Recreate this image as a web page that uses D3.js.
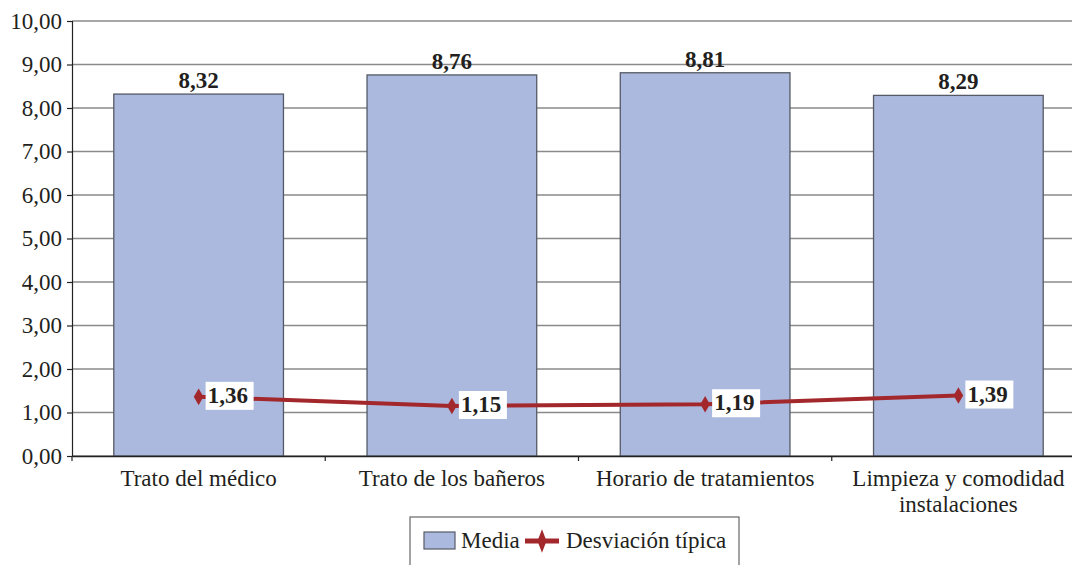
<!DOCTYPE html>
<html>
<head>
<meta charset="utf-8">
<script src="https://cdn.jsdelivr.net/npm/d3@7/dist/d3.min.js"></script>
<style>
  html, body { margin: 0; padding: 0; background: #fff; }
</style>
</head>
<body>
<svg id="chart" width="1072" height="565"></svg>
<script>
// Satisfacción con el servicio: media y desviación típica por aspecto
const categories = [
  ["Trato del médico"],
  ["Trato de los bañeros"],
  ["Horario de tratamientos"],
  ["Limpieza y comodidad", "instalaciones"]
];
const media = [8.32, 8.76, 8.81, 8.29];
const desviacion = [1.36, 1.15, 1.19, 1.39];
const yTicks = [0, 1, 2, 3, 4, 5, 6, 7, 8, 9, 10];

// Pick the first installed serif face (measured against generic fallbacks)
function pickFont(candidates) {
  const ctx = document.createElement("canvas").getContext("2d");
  const sample = "Trato del médico 1234567890 WMmil";
  const w = f => { ctx.font = "40px " + f; return ctx.measureText(sample).width; };
  const mono = w("monospace");
  for (const c of candidates) {
    const a = w(`'${c}', monospace`), b = w(`'${c}', sans-serif`);
    if (a === b && a !== mono) return `'${c}'`;
  }
  return "serif";
}
const FONT = pickFont(["Liberation Serif", "Tinos", "Times New Roman", "DejaVu Serif", "Noto Serif", "FreeSerif"]) + ", serif";
const TEXT = "#231f20";

const fmt = v => d3.format(".2f")(v).replace(".", ",");

const svg = d3.select("#chart");
const plotLeft = 72, plotRight = 1085, plotTop = 21, plotBottom = 456;

const x = d3.scaleBand().domain(d3.range(categories.length)).range([plotLeft, plotRight]).paddingInner(0.33).paddingOuter(0.165);
const xc = d3.scaleBand().domain(d3.range(categories.length)).range([plotLeft, plotRight]);
const y = d3.scaleLinear().domain([0, 10]).range([plotBottom, plotTop]);

// Gridlines
svg.append("g").selectAll("line").data(yTicks).join("line")
  .attr("x1", plotLeft).attr("x2", plotRight)
  .attr("y1", d => y(d)).attr("y2", d => y(d))
  .attr("stroke", "#8a8a8a").attr("stroke-width", 1.5);

// Y axis
const yAxis = svg.append("g").attr("transform", `translate(${plotLeft},0)`)
  .call(d3.axisLeft(y).tickValues(yTicks).tickFormat(fmt).tickSize(5).tickPadding(5));
yAxis.attr("font-family", null).attr("font-size", null);
yAxis.selectAll(".tick text").style("font-family", FONT).style("font-size", "23px").attr("fill", TEXT);
yAxis.select(".domain").attr("stroke", "#222").attr("stroke-width", 1.2);
yAxis.selectAll(".tick line").attr("stroke", "#222").attr("stroke-width", 1.2);

// Bars
svg.append("g").selectAll("rect").data(media).join("rect")
  .attr("x", (d, i) => x(i)).attr("width", x.bandwidth())
  .attr("y", d => y(d)).attr("height", d => plotBottom - y(d))
  .attr("fill", "#abb9de").attr("stroke", "#555a66").attr("stroke-width", 1.3);

// X axis
const xAxis = svg.append("g").attr("transform", `translate(0,${plotBottom})`)
  .call(d3.axisBottom(xc).tickSize(0).tickFormat(""));
xAxis.select(".domain").attr("stroke", "#222").attr("stroke-width", 1.5);
svg.append("g").selectAll("line").data(d3.range(categories.length + 1)).join("line")
  .attr("x1", i => plotLeft + i * xc.bandwidth()).attr("x2", i => plotLeft + i * xc.bandwidth())
  .attr("y1", plotBottom).attr("y2", plotBottom + 5)
  .attr("stroke", "#222").attr("stroke-width", 1.2);

// Category labels
const catText = svg.append("g").selectAll("text").data(categories).join("text")
  .attr("x", (d, i) => xc(i) + xc.bandwidth() / 2)
  .attr("y", 486)
  .attr("text-anchor", "middle").style("font-family", FONT).style("font-size", "23px").attr("fill", TEXT);
catText.selectAll("tspan").data(d => d).join("tspan")
  .attr("x", function() { return this.parentNode.getAttribute("x"); })
  .attr("dy", (d, i) => i === 0 ? 0 : 26)
  .text(d => d);

// Bar value labels
svg.append("g").selectAll("text").data(media).join("text")
  .attr("x", (d, i) => x(i) + x.bandwidth() / 2)
  .attr("y", d => y(d) - 6)
  .attr("text-anchor", "middle").style("font-family", FONT).style("font-size", "23px")
  .attr("font-weight", "bold").attr("fill", TEXT)
  .text(fmt);

// Standard deviation line
const cx = i => xc(i) + xc.bandwidth() / 2;
const line = d3.line().x((d, i) => cx(i)).y(d => y(d));
svg.append("path").datum(desviacion)
  .attr("d", line).attr("fill", "none")
  .attr("stroke", "#a3282c").attr("stroke-width", 4);

const diamond = d3.symbol().type(d3.symbolDiamond).size(80);
svg.append("g").selectAll("path").data(desviacion).join("path")
  .attr("transform", (d, i) => `translate(${cx(i)},${y(d)})`)
  .attr("d", diamond).attr("fill", "#a3282c");

// Line value labels with white boxes
const lbl = svg.append("g").selectAll("g").data(desviacion).join("g")
  .attr("transform", (d, i) => `translate(${cx(i) + 7},${y(d)})`);
lbl.append("rect").attr("x", 0).attr("y", -15).attr("width", 48).attr("height", 28).attr("fill", "#fff");
lbl.append("text").attr("x", 2).attr("y", 6)
  .style("font-family", FONT).style("font-size", "23px").attr("font-weight", "bold").attr("fill", TEXT)
  .text(fmt);

// Legend
const lg = svg.append("g").attr("transform", "translate(410,517)");
lg.append("rect").attr("x", 0).attr("y", 0).attr("width", 329).attr("height", 60)
  .attr("fill", "#fff").attr("stroke", "#666").attr("stroke-width", 1.2);
lg.append("rect").attr("x", 14).attr("y", 15).attr("width", 31).attr("height", 17)
  .attr("fill", "#abb9de").attr("stroke", "#555a66").attr("stroke-width", 1.2);
lg.append("text").attr("x", 51).attr("y", 31).style("font-family", FONT).style("font-size", "23px")
  .attr("fill", TEXT).text("Media");
lg.append("line").attr("x1", 115).attr("x2", 149).attr("y1", 24).attr("y2", 24)
  .attr("stroke", "#a3282c").attr("stroke-width", 5);
lg.append("path").attr("transform", "translate(132,24) scale(0.8,1.2)")
  .attr("d", d3.symbol().type(d3.symbolDiamond).size(110)).attr("fill", "#a3282c");
lg.append("text").attr("x", 156).attr("y", 31).style("font-family", FONT).style("font-size", "23px")
  .attr("fill", TEXT).text("Desviación típica");
</script>
</body>
</html>
